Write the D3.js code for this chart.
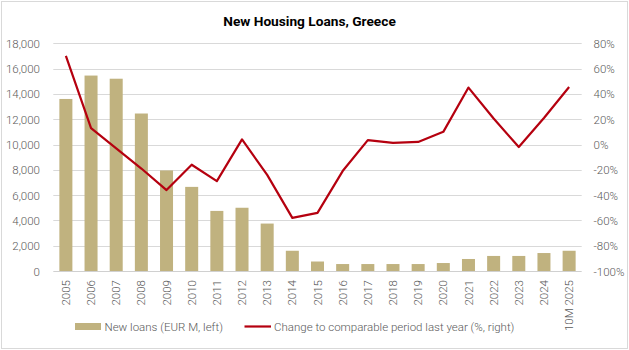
<!DOCTYPE html>
<html>
<head>
<meta charset="utf-8">
<script src="https://cdn.jsdelivr.net/npm/d3@7"></script>
<style>
  html, body { margin: 0; padding: 0; background: #fff; }
  svg { display: block; font-family: Roboto, "Liberation Sans", sans-serif; }
</style>
</head>
<body>
<svg id="chart" width="629" height="350"></svg>
<script>
const categories = ["2005","2006","2007","2008","2009","2010","2011","2012","2013","2014","2015","2016","2017","2018","2019","2020","2021","2022","2023","2024","10M 2025"];
const newLoans = [13600,15450,15200,12450,7950,6650,4750,5000,3750,1600,750,550,550,550,550,630,950,1190,1190,1420,1600];
const changePct = [70,13,-3,-19,-36,-16,-29,4,-24,-58,-54,-21,3.5,1.3,2,10,45,20.5,-2,21,45.5];
const leftTicks = [0,2000,4000,6000,8000,10000,12000,14000,16000,18000];
const rightTicks = [-100,-80,-60,-40,-20,0,20,40,60,80];
const title = "New Housing Loans, Greece";
const legendBar = "New loans (EUR M, left)";
const legendLine = "Change to comparable period last year (%, right)";

const svg = d3.select("#chart");
const W = 629, H = 350;
const plot = { left: 53.3, right: 581.7, top: 43.3, bottom: 271 };
const textFill = "#595959";
const textWeight = 300;

// border
svg.append("rect").attr("x", 1.5).attr("y", 1.5).attr("width", W - 3).attr("height", H - 3)
  .attr("fill", "#fff").attr("stroke", "#d9d9d9").attr("stroke-width", 1);

const x = d3.scaleBand().domain(categories).range([plot.left, plot.right])
  .paddingInner(0.483).paddingOuter(0.2415);
const yL = d3.scaleLinear().domain([0, 18000]).range([plot.bottom, plot.top]);
const yR = d3.scaleLinear().domain([-100, 80]).range([plot.bottom, plot.top]);

// gridlines
svg.append("g").selectAll("line").data(leftTicks.filter(d => d !== 0)).join("line")
  .attr("x1", plot.left).attr("x2", plot.right)
  .attr("y1", d => Math.round(yL(d)) + 0.5).attr("y2", d => Math.round(yL(d)) + 0.5)
  .attr("stroke", "#d9d9d9").attr("stroke-width", 1);

// bars
svg.append("g").selectAll("rect").data(categories).join("rect")
  .attr("x", d => x(d)).attr("width", x.bandwidth())
  .attr("y", (d, i) => yL(newLoans[i]))
  .attr("height", (d, i) => yL(0) - yL(newLoans[i]))
  .attr("fill", "#c0b27f");

// baseline axis
svg.append("line").attr("x1", plot.left).attr("x2", plot.right)
  .attr("y1", Math.round(yL(0)) + 0.5).attr("y2", Math.round(yL(0)) + 0.5)
  .attr("stroke", "#d0d0d0").attr("stroke-width", 1);

// line
const line = d3.line().x((d, i) => x(categories[i]) + x.bandwidth() / 2).y(d => yR(d));
svg.append("path").datum(changePct).attr("d", line)
  .attr("fill", "none").attr("stroke", "#b5000f").attr("stroke-width", 2.2)
  .attr("stroke-linejoin", "round");

// left axis
const leftAxis = d3.axisLeft(yL).tickValues(leftTicks).tickSize(0).tickPadding(0)
  .tickFormat(d3.format(","));
const gL = svg.append("g").attr("transform", "translate(40,0)").call(leftAxis);
gL.select(".domain").remove();
gL.selectAll("text").attr("font-size", 11.5).attr("fill", textFill).attr("font-weight", textWeight)
  .attr("font-family", "Roboto, sans-serif").attr("dy", "0.35em").attr("x", 0);

// right axis
const rightAxis = d3.axisRight(yR).tickValues(rightTicks).tickSize(0).tickPadding(0)
  .tickFormat(d => d + "%");
const gR = svg.append("g").attr("transform", "translate(593.5,0)").call(rightAxis);
gR.select(".domain").remove();
gR.selectAll("text").attr("font-size", 11.5).attr("fill", textFill).attr("font-weight", textWeight)
  .attr("font-family", "Roboto, sans-serif").attr("dy", "0.35em").attr("x", 0);

// x axis labels (rotated)
const xAxis = d3.axisBottom(x).tickSize(0).tickPadding(0);
const gX = svg.append("g").attr("transform", `translate(0,${plot.bottom})`).call(xAxis);
gX.select(".domain").remove();
gX.selectAll("text")
  .attr("font-size", 11.5).attr("fill", textFill).attr("font-weight", textWeight)
  .attr("font-family", "Roboto, sans-serif")
  .attr("text-anchor", "end").attr("transform", "rotate(-90)")
  .attr("x", -9).attr("y", 0).attr("dy", "0.35em");

// title
svg.append("text").attr("x", 309.5).attr("y", 26).attr("text-anchor", "middle")
  .attr("font-size", 13.7).attr("font-weight", "bold").attr("fill", "#000")
  .text(title);

// legend
const lg = svg.append("g");
lg.append("rect").attr("x", 75).attr("y", 323).attr("width", 26).attr("height", 7).attr("fill", "#c0b27f");
lg.append("text").attr("x", 104.5).attr("y", 330.5).attr("font-size", 11.5).attr("font-weight", textWeight)
  .attr("fill", textFill).text(legendBar);
lg.append("line").attr("x1", 244.5).attr("x2", 271).attr("y1", 326.5).attr("y2", 326.5)
  .attr("stroke", "#b5000f").attr("stroke-width", 2.2);
lg.append("text").attr("x", 274).attr("y", 330.5).attr("font-size", 11.5).attr("font-weight", textWeight)
  .attr("fill", textFill).text(legendLine);
</script>
</body>
</html>
